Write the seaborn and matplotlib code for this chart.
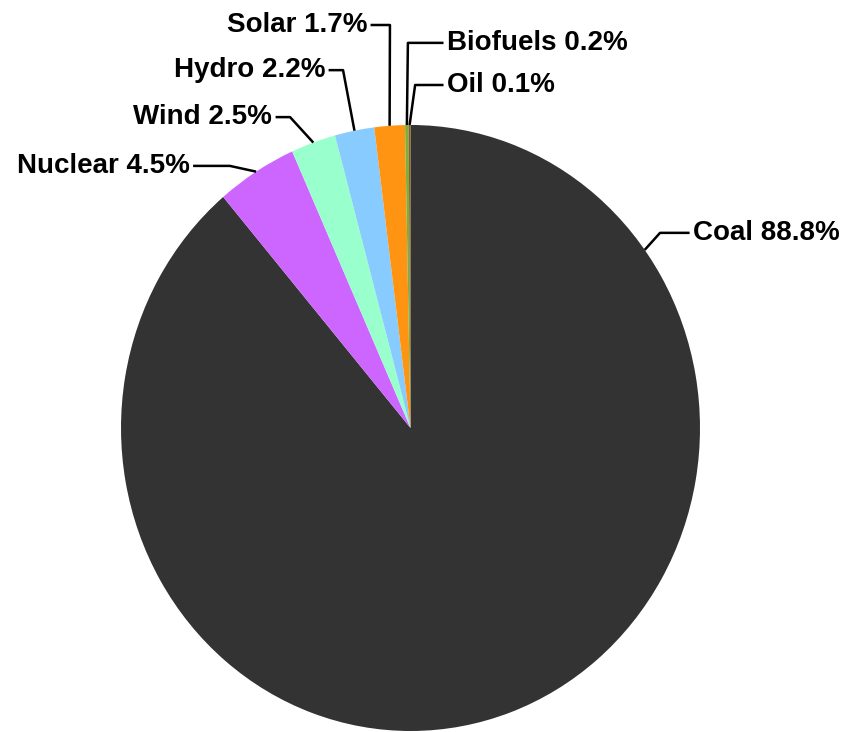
"""
Electricity generation mix pie chart
"""
import numpy as np
import matplotlib
matplotlib.use("Agg")
import matplotlib.pyplot as plt
import seaborn as sns

# Data
sources = ['Coal', 'Nuclear', 'Wind', 'Hydro', 'Solar', 'Biofuels', 'Oil']
shares = [88.8, 4.5, 2.5, 2.2, 1.7, 0.2, 0.1]
colors = ['#333333', '#CC66FF', '#99FFCC', '#88CCFF', '#FF9413', '#7DB03A', '#8B5A2B']

# Label layout (data units, pie radius = 1): text x, text y, elbow x, text side
label_layout = {
    'Coal':     (0.976, 0.644, 0.862, 'left'),
    'Nuclear':  (-0.763, 0.865, -0.624, 'right'),
    'Wind':     (-0.478, 1.026, -0.416, 'right'),
    'Hydro':    (-0.295, 1.181, -0.233, 'right'),
    'Solar':    (-0.150, 1.330, -0.071, 'right'),
    'Biofuels': (0.126, 1.271, -0.009, 'left'),
    'Oil':      (0.126, 1.132, 0.016, 'left'),
}
# coal leader line does not sit at the wedge middle
anchor_override = {'Coal': 36.0}

sns.set_theme(style="white")
plt.rcParams['font.family'] = ['Liberation Sans', 'DejaVu Sans']

fig = plt.figure(figsize=(8.51, 7.32), dpi=100)
ax = fig.add_axes([0, 0, 1, 1])

wedges, _ = ax.pie(shares, colors=colors, startangle=90, counterclock=False,
                   wedgeprops={'linewidth': 0})
ax.set_aspect('auto')
ax.set_xlim(-1.418, 1.5216)
ax.set_ylim(-1.0033, 1.4125)
ax.axis('off')

gap = 0.012
for src, val, w in zip(sources, shares, wedges):
    tx, ty, ex, side = label_layout[src]
    ang = anchor_override.get(src, (w.theta1 + w.theta2) / 2)
    px, py = np.cos(np.radians(ang)), np.sin(np.radians(ang))
    lx = tx + gap if side == 'right' else tx - gap
    ax.plot([px, ex, lx], [py, ty, ty], color='black', lw=1.8,
            solid_capstyle='butt', clip_on=False)
    ax.text(tx, ty, f"{src} {val}%", ha=side, va='center',
            fontsize=20, fontweight='bold', color='black')

plt.savefig("out.png", dpi=100)
